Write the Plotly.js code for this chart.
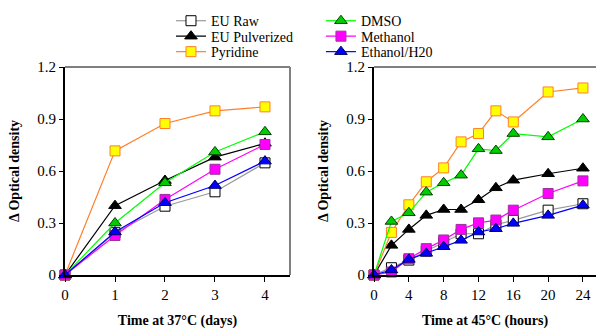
<!DOCTYPE html>
<html>
<head>
<meta charset="utf-8">
<script src="https://cdn.plot.ly/plotly-3.0.1.min.js"></script>
<style>html,body{margin:0;padding:0;background:#fff;}#chart{width:596px;height:331px;}</style>
</head>
<body>
<div id="chart"></div>
<script>
// Left panel: days at 37°C
const daysX = [0, 1, 2, 3, 4];
const d_euRaw = [0, 0.244, 0.397, 0.48, 0.647];
const d_euPulv = [0, 0.40, 0.545, 0.68, 0.76];
const d_pyridine = [0, 0.716, 0.874, 0.947, 0.970];
const d_dmso = [0, 0.30, 0.532, 0.71, 0.826];
const d_methanol = [0, 0.228, 0.436, 0.61, 0.753];
const d_ethanol = [0, 0.248, 0.417, 0.516, 0.657];

// Right panel: hours at 45°C
const hoursX = [0, 2, 4, 6, 8, 10, 12, 14, 16, 20, 24];
const h_euRaw = [0, 0.042, 0.086, 0.138, 0.186, 0.238, 0.238, 0.29, 0.315, 0.374, 0.411];
const h_euPulv = [0, 0.171, 0.263, 0.344, 0.378, 0.378, 0.434, 0.503, 0.547, 0.584, 0.616];
const h_pyridine = [0, 0.246, 0.405, 0.538, 0.618, 0.768, 0.816, 0.947, 0.883, 1.056, 1.079];
const h_dmso = [0, 0.309, 0.359, 0.478, 0.532, 0.576, 0.728, 0.718, 0.816, 0.797, 0.90];
const h_methanol = [0, 0.017, 0.094, 0.152, 0.202, 0.263, 0.301, 0.317, 0.374, 0.470, 0.543];
const h_ethanol = [0, 0.029, 0.09, 0.125, 0.163, 0.20, 0.248, 0.267, 0.298, 0.344, 0.403];

const seriesNames = ['EU Raw', 'EU Pulverized', 'Pyridine', 'DMSO', 'Methanol', 'Ethanol/H20'];
const xTicksLeft = [0, 1, 2, 3, 4];
const xTicksRight = [0, 4, 8, 12, 16, 20, 24];
const yTicks = [0, 0.3, 0.6, 0.9, 1.2];

const styles = [
  {line: '#999999', fill: '#ffffff', border: '#000000', symbol: 'square'},
  {line: '#000000', fill: '#000000', border: '#000000', symbol: 'triangle-up'},
  {line: '#ff7f27', fill: '#ffff00', border: '#ff7f27', symbol: 'square'},
  {line: '#00ff00', fill: '#00cc00', border: '#004400', symbol: 'triangle-up'},
  {line: '#ff00ff', fill: '#ff00ff', border: '#993399', symbol: 'square'},
  {line: '#0000ff', fill: '#0000ff', border: '#000066', symbol: 'triangle-up'}
];
const leftData = [d_euRaw, d_euPulv, d_pyridine, d_dmso, d_methanol, d_ethanol];
const rightData = [h_euRaw, h_euPulv, h_pyridine, h_dmso, h_methanol, h_ethanol];
const legendIds = ['legend', 'legend2', 'legend3', 'legend4', 'legend5', 'legend6'];

const traces = [];
seriesNames.forEach((name, i) => {
  const s = styles[i];
  const common = {
    type: 'scatter', mode: 'lines+markers', name: name,
    line: {color: s.line, width: 1.2},
    marker: {symbol: s.symbol, size: s.symbol === 'square' ? 10 : 11, color: s.fill, line: {color: s.border, width: 1}},
    cliponaxis: false
  };
  traces.push(Object.assign({}, common, {x: daysX, y: leftData[i], xaxis: 'x', yaxis: 'y', legend: legendIds[i], showlegend: true}));
  traces.push(Object.assign({}, common, {x: hoursX, y: rightData[i], xaxis: 'x2', yaxis: 'y2', showlegend: false}));
});

const FAM = 'Liberation Serif, Times New Roman, serif';
const font = {family: FAM, color: '#000'};
const tickFont = {family: FAM, color: '#000', size: 15};
const titleFont = {family: FAM, color: '#000', size: 14, weight: 'bold'};
const legendFont = {family: FAM, color: '#000', size: 14};

const yAxisBase = {
  range: [0, 1.2], tickvals: yTicks, ticktext: yTicks.map(v => v === 0 ? '0' : String(v)),
  ticks: 'outside', ticklen: 4, tickwidth: 1, tickcolor: '#000',
  showline: true, linecolor: '#000', linewidth: 2, showgrid: false, zeroline: false,
  tickfont: tickFont, fixedrange: true,
  title: {text: 'Δ Optical density', font: titleFont, standoff: 14}
};
const xAxisBase = {
  ticks: 'outside', ticklen: 5, tickwidth: 1, tickcolor: '#000',
  showline: true, linecolor: '#000', linewidth: 1.5, showgrid: false, zeroline: false,
  tickfont: tickFont, fixedrange: true
};

// legend placement: two columns of three rows
const legX = [0.1996, 0.1996, 0.1996, 0.482, 0.482, 0.482];
const legY = [1.2206, 1.1463, 1.0719, 1.2206, 1.1463, 1.0719];

const layout = {
  width: 596, height: 331,
  margin: {l: 65, r: 0, t: 67, b: 55.5},
  paper_bgcolor: '#fff', plot_bgcolor: '#fff',
  font: font,
  showlegend: true,
  xaxis: Object.assign({}, xAxisBase, {domain: [0, 0.4237], range: [0, 4.5], tickvals: xTicksLeft,
    title: {text: 'Time at 37°C (days)', font: titleFont, standoff: 13}}),
  yaxis: Object.assign({}, yAxisBase, {anchor: 'x'}),
  xaxis2: Object.assign({}, xAxisBase, {domain: [0.582, 1], range: [0, 25.5], tickvals: xTicksRight, anchor: 'y2',
    title: {text: 'Time at 45°C (hours)', font: titleFont, standoff: 13}}),
  yaxis2: Object.assign({}, yAxisBase, {anchor: 'x2'}),
  shapes: [
    {type: 'line', xref: 'x domain', yref: 'y domain', x0: 0, x1: 1, y0: 1, y1: 1, line: {color: '#000', width: 1}},
    {type: 'line', xref: 'x domain', yref: 'y domain', x0: 1, x1: 1, y0: 0, y1: 1, line: {color: '#808080', width: 2}},
    {type: 'line', xref: 'x2 domain', yref: 'y2 domain', x0: 0, x1: 1, y0: 1, y1: 1, line: {color: '#000', width: 1}}
  ]
};
legendIds.forEach((id, i) => {
  layout[id] = {x: legX[i], y: legY[i], xanchor: 'left', yanchor: 'middle', xref: 'paper', yref: 'paper',
    font: legendFont, bgcolor: 'rgba(0,0,0,0)', itemwidth: 30, borderwidth: 0};
});

Plotly.newPlot('chart', traces, layout, {displayModeBar: false, staticPlot: true});
</script>
</body>
</html>
